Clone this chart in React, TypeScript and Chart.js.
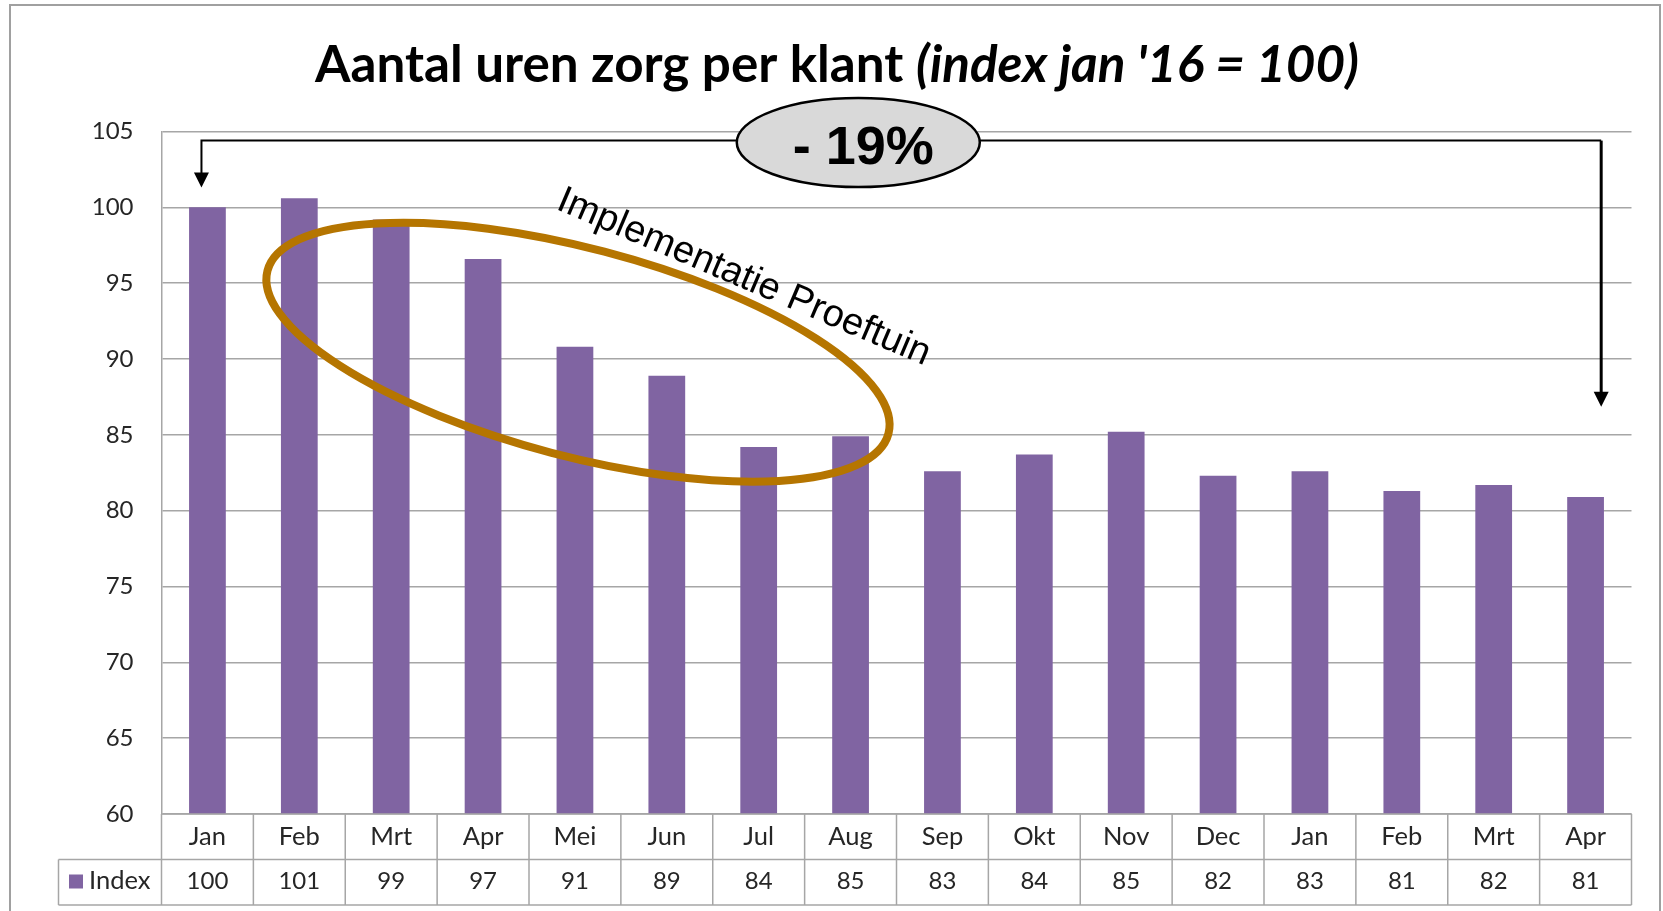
import React, { useEffect, useRef } from 'react';
import { Chart, registerables } from 'chart.js';

Chart.register(...registerables);

// ---- data ----
const categories = ['Jan', 'Feb', 'Mrt', 'Apr', 'Mei', 'Jun', 'Jul', 'Aug', 'Sep', 'Okt', 'Nov', 'Dec', 'Jan', 'Feb', 'Mrt', 'Apr'];
const indexValues = [100, 100.6, 99.2, 96.6, 90.8, 88.9, 84.2, 84.9, 82.6, 83.7, 85.2, 82.3, 82.6, 81.3, 81.7, 80.9];
const tableLabels = ['100', '101', '99', '97', '91', '89', '84', '85', '83', '84', '85', '82', '83', '81', '82', '81'];
const seriesName = 'Index';
const yMin = 60;
const yMax = 105;
const yStep = 5;
const titleMain = 'Aantal uren zorg per klant ';
const titleSub = "(index jan '16 = 100)";
const changeLabel = '- 19%';
const phaseLabel = 'Implementatie Proeftuin';

// annotation anchors (category index / value units)
const bracketTopValue = 104.4;
const bracketLeftIndex = -0.065;
const bracketLeftTip = 101.3;
const bracketRightIndex = 15.17;
const bracketRightTip = 86.85;
const badgeIndex = 7.084;
const badgeValue = 104.27;
const ringIndex = 4.033;
const ringValue = 90.45;
const phaseTextIndex = 3.783;
const phaseTextValue = 99.91;

// ---- styles ----
const FONT = 'Lato, "Open Sans", sans-serif';
const ARIAL = '"Liberation Sans", Arial, sans-serif';
const BAR = '#8064A2';
const GRID = '#a6a6a6';
const TEXT = '#262626';
const RING = '#B57500';

const framePlugin = {
  id: 'frame',
  beforeDraw(chart: any) {
    const { ctx } = chart;
    ctx.save();
    ctx.fillStyle = '#ffffff';
    ctx.fillRect(0, 0, chart.width, chart.height);
    ctx.strokeStyle = '#a0a0a0';
    ctx.lineWidth = 2;
    ctx.strokeRect(10, 5, 1650, 930);
    ctx.restore();
  },
};

const titlePlugin = {
  id: 'mixedTitle',
  afterDraw(chart: any) {
    const { ctx } = chart;
    ctx.save();
    const base = 56;
    ctx.font = `bold ${base}px ${FONT}`;
    const w1 = ctx.measureText(titleMain).width;
    ctx.font = `italic bold ${base}px ${FONT}`;
    const w2 = ctx.measureText(titleSub).width;
    const target = 1044;
    const s = target / (w1 + w2);
    const size = base * s;
    const cx = 837;
    const startX = cx - (w1 + w2) * s / 2;
    ctx.fillStyle = '#000';
    ctx.textBaseline = 'alphabetic';
    ctx.textAlign = 'left';
    ctx.font = `bold ${size}px ${FONT}`;
    ctx.fillText(titleMain, startX, 82);
    ctx.font = `italic bold ${size}px ${FONT}`;
    ctx.fillText(titleSub, startX + w1 * s, 82);
    ctx.restore();
  },
};

const tablePlugin = {
  id: 'dataTable',
  afterDraw(chart: any) {
    const { ctx, chartArea, scales } = chart;
    const x = scales.x;
    const left = chartArea.left;
    const right = chartArea.right;
    const top = chartArea.bottom;
    const bottom = x.bottom;
    const rowH = (bottom - top) / 2;
    const mid = top + rowH;
    const legendLeft = 58.5;
    const n = categories.length;
    const colW = (right - left) / n;
    ctx.save();
    ctx.strokeStyle = GRID;
    ctx.lineWidth = 1.5;
    ctx.beginPath();
    ctx.moveTo(left, top);
    ctx.lineTo(right, top);
    ctx.moveTo(legendLeft, mid);
    ctx.lineTo(right, mid);
    ctx.moveTo(legendLeft, bottom);
    ctx.lineTo(right, bottom);
    for (let i = 0; i <= n; i++) {
      const xx = left + i * colW;
      ctx.moveTo(xx, top);
      ctx.lineTo(xx, bottom);
    }
    ctx.moveTo(legendLeft, mid);
    ctx.lineTo(legendLeft, bottom);
    ctx.stroke();

    ctx.fillStyle = TEXT;
    ctx.textAlign = 'center';
    ctx.textBaseline = 'alphabetic';
    categories.forEach((c, i) => {
      const cx = x.getPixelForValue(i);
      ctx.font = `25.5px ${FONT}`;
      ctx.fillText(c, cx, top + 31);
      ctx.font = `24px ${FONT}`;
      ctx.fillText(tableLabels[i], cx, mid + 29.5);
    });
    ctx.fillStyle = BAR;
    ctx.fillRect(69, mid + 15, 14, 14);
    ctx.fillStyle = TEXT;
    ctx.textAlign = 'left';
    ctx.font = `25.5px ${FONT}`;
    ctx.fillText(seriesName, 89, mid + 29.5);
    ctx.restore();
  },
};

function arrowDown(ctx: any, x: number, tipY: number) {
  ctx.beginPath();
  ctx.moveTo(x - 7.5, tipY - 15);
  ctx.lineTo(x + 7.5, tipY - 15);
  ctx.lineTo(x, tipY);
  ctx.closePath();
  ctx.fill();
}

const annotationPlugin = {
  id: 'annotations',
  afterDatasetsDraw(chart: any) {
    const { ctx, scales } = chart;
    const xs = scales.x;
    const ys = scales.y;
    ctx.save();

    // orange ring
    const rx = xs.getPixelForValue(ringIndex);
    const ry = ys.getPixelForValue(ringValue);
    ctx.strokeStyle = RING;
    ctx.lineWidth = 8;
    ctx.beginPath();
    ctx.ellipse(rx, ry, 321, 104, (14.7 * Math.PI) / 180, 0, Math.PI * 2);
    ctx.stroke();

    // phase text
    const tx = xs.getPixelForValue(phaseTextIndex);
    const ty = ys.getPixelForValue(phaseTextValue);
    ctx.save();
    ctx.translate(tx, ty);
    ctx.rotate((23 * Math.PI) / 180);
    ctx.fillStyle = '#000';
    ctx.font = `38px ${ARIAL}`;
    ctx.textAlign = 'left';
    ctx.textBaseline = 'alphabetic';
    ctx.fillText(phaseLabel, 0, 0);
    ctx.restore();

    // bracket
    const yTop = ys.getPixelForValue(bracketTopValue);
    const lx = xs.getPixelForValue(bracketLeftIndex);
    const rX = xs.getPixelForValue(bracketRightIndex);
    const lTip = ys.getPixelForValue(bracketLeftTip);
    const rTip = ys.getPixelForValue(bracketRightTip);
    ctx.strokeStyle = '#000';
    ctx.fillStyle = '#000';
    ctx.lineWidth = 2;
    ctx.beginPath();
    ctx.moveTo(lx, lTip - 14);
    ctx.lineTo(lx, yTop);
    ctx.lineTo(rX, yTop);
    ctx.stroke();
    ctx.lineWidth = 3;
    ctx.beginPath();
    ctx.moveTo(rX, yTop);
    ctx.lineTo(rX, rTip - 14);
    ctx.stroke();
    arrowDown(ctx, lx, lTip);
    arrowDown(ctx, rX, rTip);

    // badge
    const bx = xs.getPixelForValue(badgeIndex);
    const by = ys.getPixelForValue(badgeValue);
    ctx.beginPath();
    ctx.ellipse(bx, by, 121.5, 44.5, 0, 0, Math.PI * 2);
    ctx.fillStyle = '#d9d9d9';
    ctx.fill();
    ctx.lineWidth = 2.5;
    ctx.strokeStyle = '#000';
    ctx.stroke();
    ctx.fillStyle = '#000';
    ctx.font = `bold 54px ${ARIAL}`;
    ctx.textAlign = 'center';
    ctx.textBaseline = 'alphabetic';
    ctx.fillText(changeLabel, bx + 5, by + 21.5);

    ctx.restore();
  },
};

export default function App() {
  const ref = useRef<HTMLCanvasElement | null>(null);

  useEffect(() => {
    if (!ref.current) return;
    const chart = new Chart(ref.current, {
      type: 'bar',
      data: {
        labels: categories,
        datasets: [
          {
            label: seriesName,
            data: indexValues,
            backgroundColor: BAR,
            borderWidth: 0,
            barPercentage: 0.4,
            categoryPercentage: 1,
          },
        ],
      },
      options: {
        responsive: false,
        animation: false,
        devicePixelRatio: 1,
        layout: { padding: { left: 0, top: 131.5, right: 31.5, bottom: 6 } },
        plugins: {
          legend: { display: false },
          title: { display: false },
          tooltip: { enabled: false },
        },
        scales: {
          x: {
            type: 'category',
            grid: { display: false },
            border: { display: false },
            ticks: { display: false },
            afterFit: (s: any) => {
              s.height = 91;
            },
          },
          y: {
            min: yMin,
            max: yMax,
            grid: { color: GRID, lineWidth: 1.5, drawTicks: false },
            border: { display: true, color: GRID, width: 1.5 },
            ticks: {
              stepSize: yStep,
              padding: 28,
              color: TEXT,
              font: { family: FONT, size: 24 },
            },
            afterFit: (s: any) => {
              s.width = 161.5;
            },
          },
        },
      },
      plugins: [framePlugin, tablePlugin, annotationPlugin, titlePlugin],
    });
    return () => chart.destroy();
  }, []);

  return (
    <div style={{ position: 'fixed', left: 0, top: 0, width: 1663, height: 911, background: '#fff' }}>
      <canvas ref={ref} width={1663} height={911} style={{ width: 1663, height: 911, display: 'block' }} />
    </div>
  );
}
